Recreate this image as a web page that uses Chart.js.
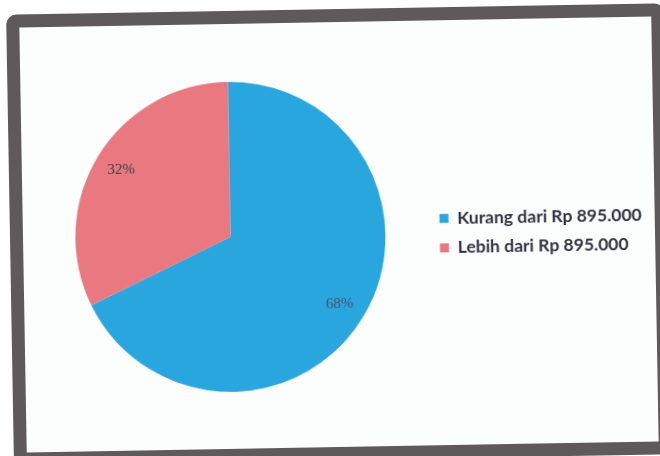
<!DOCTYPE html>
<html>
<head>
<meta charset="utf-8">
<script src="https://cdn.jsdelivr.net/npm/chart.js@4"></script>
<style>
  html, body { margin: 0; padding: 0; background: #ffffff; }
  body { width: 660px; height: 456px; overflow: hidden; position: relative; }
  .frame {
    position: absolute;
    left: 10px; top: 9px;
    width: 658px; height: 451px;
    box-sizing: border-box;
    border: 13px solid #5e5a5c;
    border-radius: 10px;
    background: #fcfdfd;
    transform: rotate(-1deg);
    transform-origin: 50% 50%;
  }
  .frame canvas { display: block; }
</style>
</head>
<body>
<div class="frame">
  <canvas id="chart" width="632" height="425"></canvas>
</div>
<script>
// Pendapatan responden dibanding UMK
const kategori = ['Kurang dari Rp 895.000', 'Lebih dari Rp 895.000'];
const persen = [68, 32];
const warna = ['#2aa6df', '#ea7880'];
const warnaLabel = ['#4a5268', '#3b3a42'];

// tulis persentase di dalam tiap potongan
const labelPersen = {
  id: 'labelPersen',
  afterDatasetsDraw(chart) {
    const { ctx } = chart;
    const meta = chart.getDatasetMeta(0);
    ctx.save();
    ctx.font = '15px "Liberation Serif", serif';
    ctx.textAlign = 'center';
    ctx.textBaseline = 'middle';
    meta.data.forEach((arc, i) => {
      const { x, y, startAngle, endAngle, outerRadius } = arc.getProps(['x', 'y', 'startAngle', 'endAngle', 'outerRadius'], true);
      const mid = (startAngle + endAngle) / 2;
      const r = outerRadius * 0.826;
      ctx.fillStyle = warnaLabel[i];
      ctx.fillText(persen[i] + '%', x + Math.cos(mid) * r, y + Math.sin(mid) * r);
    });
    ctx.restore();
  }
};

new Chart(document.getElementById('chart'), {
  type: 'pie',
  data: {
    labels: kategori,
    datasets: [{
      data: persen,
      backgroundColor: warna,
      borderWidth: 0
    }]
  },
  options: {
    responsive: false,
    animation: false,
    layout: { padding: { left: 10, top: 58, bottom: 57, right: 3 } },
    plugins: {
      legend: {
        position: 'right',
        align: 'center',
        labels: {
          boxWidth: 9,
          boxHeight: 9,
          padding: 12,
          color: '#2f3342',
          font: { family: 'Lato', size: 17.5, weight: 'bold' }
        }
      },
      tooltip: { enabled: false }
    }
  },
  plugins: [labelPersen]
});
</script>
</body>
</html>
